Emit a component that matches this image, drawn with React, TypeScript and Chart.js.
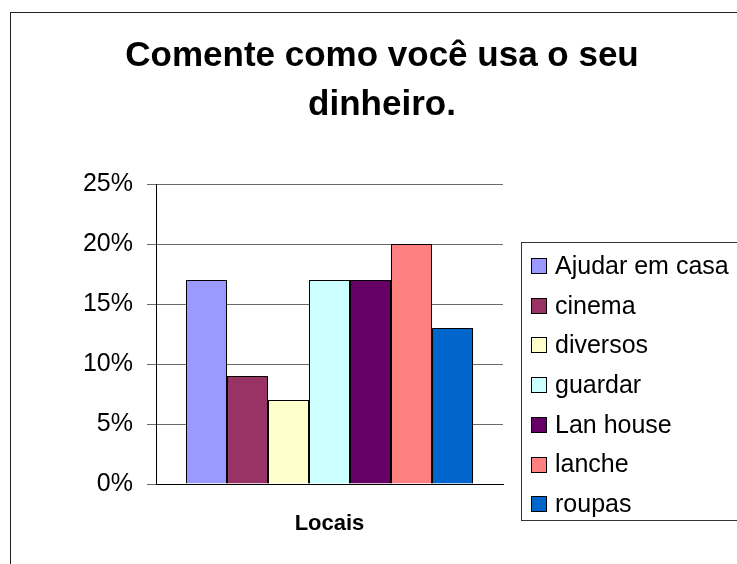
import React, { useEffect, useRef } from 'react';
import { Chart, registerables } from 'chart.js';

Chart.register(...registerables);

const TITLE_LINES = ['Comente como você usa o seu', 'dinheiro.'];
const CATEGORIES = ['Locais'];
const SERIES_NAMES = ['Ajudar em casa', 'cinema', 'diversos', 'guardar', 'Lan house', 'lanche', 'roupas'];
const SERIES_VALUES = [17, 9, 7, 17, 17, 20, 13];
const SERIES_COLORS = ['#9999FF', '#993366', '#FFFFCC', '#CCFFFF', '#660066', '#FF8080', '#0066CC'];
const Y_MIN = 0;
const Y_MAX = 25;
const Y_STEP = 5;

const FONT = '"Liberation Sans", Arial, Helvetica, sans-serif';

const frameAndLegend = {
  id: 'frameAndLegend',
  afterDraw(chart: any) {
    const ctx = chart.ctx as CanvasRenderingContext2D;
    ctx.save();
    // outer chart frame
    ctx.strokeStyle = '#222';
    ctx.lineWidth = 1;
    ctx.strokeRect(10.5, 12.5, 900, 900);
    // legend frame
    ctx.strokeStyle = '#333';
    ctx.strokeRect(521.5, 242.5, 300, 278);
    ctx.font = '25px ' + FONT;
    ctx.textBaseline = 'middle';
    ctx.textAlign = 'left';
    chart.data.datasets.forEach((ds: any, i: number) => {
      const cy = 266 + i * 39.7;
      const top = Math.round(cy - 8);
      ctx.fillStyle = ds.backgroundColor;
      ctx.fillRect(531, top, 16, 16);
      ctx.strokeStyle = '#000';
      ctx.strokeRect(531.5, top + 0.5, 15, 15);
      ctx.fillStyle = '#000';
      ctx.fillText(ds.label, 555, cy + 1);
    });
    ctx.restore();
  },
};

export default function App() {
  const ref = useRef<HTMLCanvasElement | null>(null);

  useEffect(() => {
    if (!ref.current) return;
    Chart.defaults.font.family = FONT;
    Chart.defaults.color = '#000';
    const chart = new Chart(ref.current, {
      type: 'bar',
      data: {
        labels: CATEGORIES,
        datasets: SERIES_NAMES.map((name, i) => ({
          label: name,
          data: [SERIES_VALUES[i]],
          backgroundColor: SERIES_COLORS[i],
          borderColor: '#000',
          borderWidth: 1,
          borderSkipped: 'start',
          inflateAmount: 0,
          categoryPercentage: 287 / 347,
          barPercentage: 1,
        })),
      },
      options: {
        animation: false,
        responsive: false,
        devicePixelRatio: 1,
        layout: { padding: { left: 27, right: 0, top: 0, bottom: 0 } },
        plugins: {
          legend: { display: false },
          tooltip: { enabled: false },
          title: {
            display: true,
            text: TITLE_LINES,
            color: '#000',
            font: { size: 35, weight: 'bold', family: FONT, lineHeight: 1.4 },
            padding: { top: 32, bottom: 54 },
          },
        },
        scales: {
          x: {
            type: 'category',
            grid: { display: false, drawTicks: false },
            border: { display: true, color: '#000', width: 1 },
            ticks: { padding: 27, font: { size: 22, weight: 'bold', family: FONT }, color: '#000' },
            afterFit(scale: any) {
              scale.height = 80;
            },
          },
          y: {
            type: 'linear',
            position: 'left',
            min: Y_MIN,
            max: Y_MAX,
            grid: { color: '#6a6a6a', tickLength: 9, lineWidth: 1 },
            border: { display: true, color: '#000', width: 1 },
            ticks: {
              stepSize: Y_STEP,
              padding: 14,
              font: { size: 25, family: FONT },
              color: '#000',
              callback: (v: any) => v + '%',
            },
            afterFit(scale: any) {
              scale.width = 129;
            },
          },
          yR: {
            type: 'linear',
            position: 'right',
            display: true,
            grid: { display: false, drawTicks: false },
            border: { display: false },
            ticks: { display: false },
            afterFit(scale: any) {
              scale.width = 234;
            },
          },
        },
      } as any,
      plugins: [frameAndLegend],
    });
    return () => chart.destroy();
  }, []);

  return (
    <div style={{ position: 'fixed', left: 0, top: 0, width: 737, height: 564, background: '#fff' }}>
      <canvas ref={ref} width={737} height={564} style={{ display: 'block' }} />
    </div>
  );
}
